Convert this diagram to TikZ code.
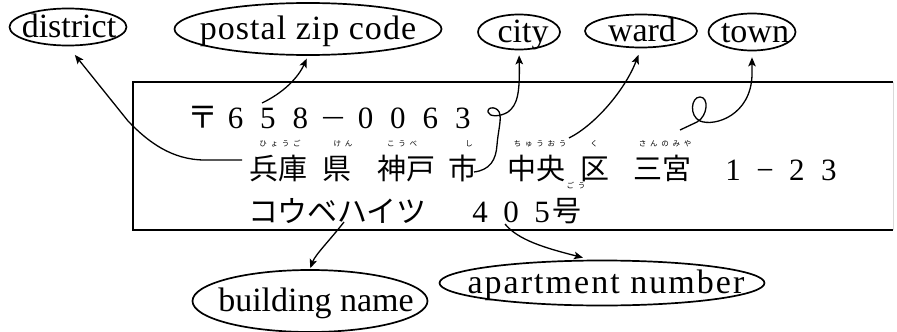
\documentclass[tikz,border=0pt]{standalone}
\usepackage{fontspec}
\setmainfont{Liberation Serif}
\newfontfamily\jp{Noto Sans CJK JP}
\usetikzlibrary{shapes.geometric,arrows.meta,calc}
\newcommand{\lbltext}[2][0pt]{\makebox[0pt]{\hspace{#1}\raisebox{-0.3em}[0pt][0pt]{#2}}}
\newcommand{\cellA}[1]{\makebox[32.5pt]{#1}}
\newcommand{\cellB}[1]{\makebox[32pt]{#1}}
\newcommand{\cellC}[1]{\makebox[31pt]{#1}}
\tikzset{
  lbl/.style={draw, ellipse, line width=1.7pt, inner sep=0pt, font=\fontsize{34}{36}\selectfont},
  jtxt/.style={anchor=base, inner sep=0pt, font=\jp\fontsize{29}{30}\selectfont},
  ntxt/.style={anchor=base, inner sep=0pt, font=\fontsize{31}{33}\selectfont},
  furi/.style={anchor=base, inner sep=0pt, font=\jp\fontsize{7.5}{8}\selectfont\addfontfeature{LetterSpace=50}},
  arr/.style={draw, line width=1.3pt, -{Stealth[length=9pt,width=7.5pt,inset=2pt]}}
}
\begin{document}
\begin{tikzpicture}[x=1pt,y=-1pt]
\useasboundingbox (0,0) rectangle (897,332);
% address box
\draw[line width=1.6pt] (893,82) -- (133,82) -- (133,230) -- (893,230);
\draw[line width=0.8pt, black!15] (893,82) -- (893,230);
% label ellipses
\node[lbl, minimum width=117pt, minimum height=37pt] (district) at (68,27) {\lbltext[2pt]{district}};
\node[lbl, minimum width=267pt, minimum height=52pt] (postal) at (308,29) {\lbltext{\addfontfeature{LetterSpace=3}postal zip code}};
\node[lbl, minimum width=82pt, minimum height=35pt] (city) at (519,32) {\lbltext[8pt]{city}};
\node[lbl, minimum width=112pt, minimum height=33pt] (ward) at (641,31) {\lbltext[2pt]{ward}};
\node[lbl, minimum width=87pt, minimum height=37pt] (town) at (752,32) {\lbltext[6pt]{town}};
\node[lbl, minimum width=235pt, minimum height=62pt] (building) at (310,301) {\lbltext[12pt]{building name}};
\node[lbl, minimum width=325pt, minimum height=45pt] (apt) at (602,283) {\lbltext[8pt]{\addfontfeature{LetterSpace=6}apartment number}};
% line 1
\node[ntxt] (zip) at (333,128) {\cellA{\jp〒}\cellA{6}\cellA{5}\cellA{8}\cellA{\scalebox{1.4}[1]{−}}\cellA{0}\cellA{0}\cellA{6}\cellA{3}};
% line 2
\node[jtxt] (hyogo) at (278,179) {兵庫};
\node[jtxt] (ken) at (337,179) {県};
\node[jtxt] (kobe) at (406,179) {神戸};
\node[jtxt] (shi) at (463,179) {市};
\node[jtxt] (chuo) at (536,179) {中央};
\node[jtxt] (ku) at (595,179) {区};
\node[jtxt] (sannomiya) at (662,179) {三宮};
\node[ntxt] (chome) at (781,180) {\cellB{1}\cellB{−}\cellB{2}\cellB{3}};
% furigana
\node[furi] (f1) at (280,146) {ひょうご};
\node[furi] (f2) at (343,146) {けん};
\node[furi] (f3) at (402,146) {こうべ};
\node[furi] (f4) at (469,146) {し};
\node[furi] (f5) at (540,146) {ちゅうおう};
\node[furi] (f6) at (594,146) {く};
\node[furi] (f7) at (665,146) {さんのみや};
\node[furi] (f8) at (576,188) {ごう};
% line 3
\node[jtxt, font=\jp\fontsize{30}{31}\selectfont] (kana) at (337.5,222) {コウベハイツ};
\node[ntxt] (room) at (511,222) {\cellC{4}\cellC{0}\cellC{5}};
\node[jtxt] (go) at (567,221) {号};
% connector start points
\coordinate (s1) at (242,160);
\coordinate (s2) at (262,103);
\coordinate (s3) at (474,172);
\coordinate (s4) at (569,138);
\coordinate (s5) at (680,130);
\coordinate (s6) at (344,222);
\coordinate (s7) at (505,224);
% connectors
\draw[arr, shorten >=11pt] (s1) -- (205,160) .. controls (172,160) and (148,142) .. (128,121) -- (district.south);
\draw[arr, shorten >=3pt] (s2) .. controls (283,93) and (298,78) .. (postal.south);
\draw[arr, shorten >=5pt] (s3) .. controls (490,170) and (496,160) .. (497,145) .. controls (498,132) and (501,122) .. (500,115) .. controls (499,106) and (487,106) .. (488,112) .. controls (489,117) and (500,117) .. (508,112) .. controls (517,105) and (520,95) .. (city.south);
\draw[arr, shorten >=7pt] (s4) .. controls (595,125) and (625,90) .. (ward.south);
\draw[arr, shorten >=6pt] (s5) -- (697,122) .. controls (708,116) and (709,97) .. (700,97) .. controls (691,97) and (689,116) .. (700,121) .. controls (715,127) and (751,115) .. (752,75) -- (town.south);
\draw[arr, shorten >=1pt] (s6) .. controls (330,240) and (315,255) .. (building.north);
\draw[arr] (s7) .. controls (518,240) and (545,248) .. ($(apt.north)+(-19,-2)$);
\end{tikzpicture}
\end{document}
